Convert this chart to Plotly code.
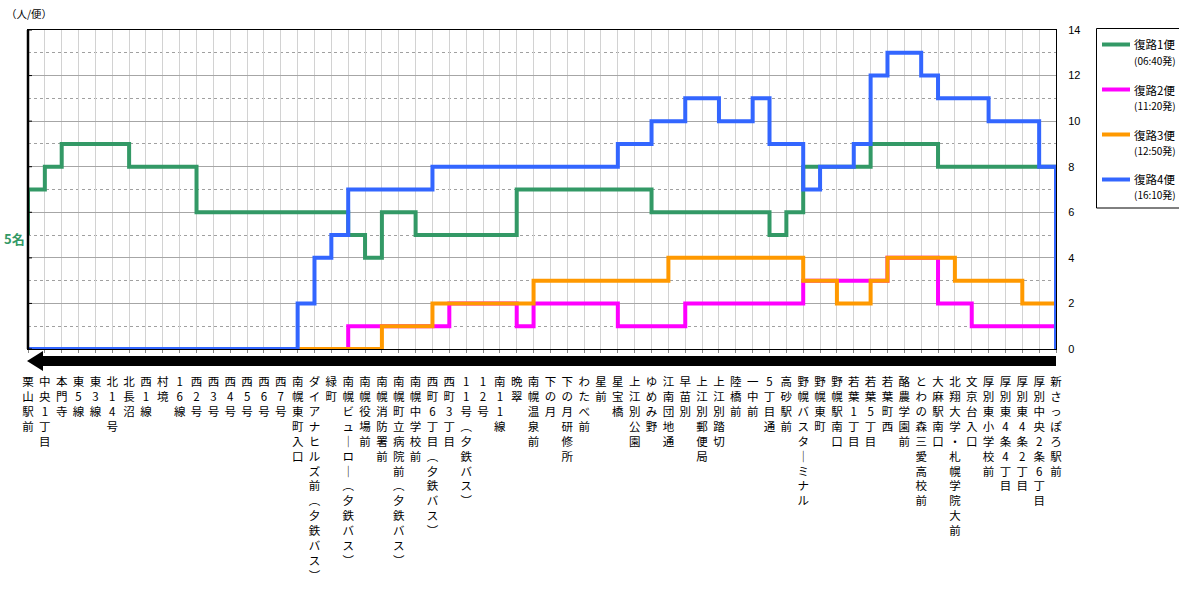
import plotly.graph_objects as go

# Stops along the route, drawn left (栗山駅前) to right (新さっぽろ駅前)
stops = [
    "栗山駅前", "中央1丁目", "本門寺", "東5線", "東3線", "北14号", "北長沼", "西1線",
    "村境", "16線", "西2号", "西3号", "西4号", "西5号", "西6号", "西7号",
    "南幌東町入口", "ダイアナヒルズ前（夕鉄バス）", "緑町", "南幌ビューロー（夕鉄バス）",
    "南幌役場前", "南幌消防署前", "南幌町立病院前（夕鉄バス）", "南幌中学校前",
    "西町6丁目（夕鉄バス）", "西町3丁目", "11号（夕鉄バス）", "12号", "南11線", "晩翠",
    "南幌温泉前", "下の月", "下の月研修所", "わたべ前", "星前", "星宝橋", "上江別公園",
    "ゆめみ野", "江南団地通", "早苗別", "上江別郵便局", "上江別踏切", "陸橋前", "一中前",
    "5丁目通", "高砂駅前", "野幌バスターミナル", "野幌東町", "野幌駅南口", "若葉1丁目",
    "若葉5丁目", "若葉町西", "酪農学園前", "とわの森三愛高校前", "大麻駅南口",
    "北翔大学・札幌学院大前", "文京台入口", "厚別東小学校前", "厚別東4条4丁目",
    "厚別東4条2丁目", "厚別中央2条6丁目", "新さっぽろ駅前",
]

# Passengers on board when leaving each stop (bus runs right -> left)
trip1 = [5, 7, 8, 9, 9, 9, 9, 8, 8, 8, 8, 6, 6, 6, 6, 6, 6, 6, 6, 6, 5, 4, 6, 6, 5, 5,
         5, 5, 5, 5, 7, 7, 7, 7, 7, 7, 7, 7, 6, 6, 6, 6, 6, 6, 6, 5, 6, 8, 8, 8, 8, 9,
         9, 9, 9, 8, 8, 8, 8, 8, 8, 8]
trip2 = [0, 0, 0, 0, 0, 0, 0, 0, 0, 0, 0, 0, 0, 0, 0, 0, 0, 0, 0, 0, 1, 1, 1, 1, 1, 1,
         2, 2, 2, 2, 1, 2, 2, 2, 2, 2, 1, 1, 1, 1, 2, 2, 2, 2, 2, 2, 2, 3, 3, 3, 3, 3,
         4, 4, 4, 2, 2, 1, 1, 1, 1, 1]
trip3 = [0, 0, 0, 0, 0, 0, 0, 0, 0, 0, 0, 0, 0, 0, 0, 0, 0, 0, 0, 0, 0, 0, 1, 1, 1, 2,
         2, 2, 2, 2, 2, 3, 3, 3, 3, 3, 3, 3, 3, 4, 4, 4, 4, 4, 4, 4, 4, 3, 3, 2, 2, 3,
         4, 4, 4, 4, 3, 3, 3, 3, 2, 2]
trip4 = [0, 0, 0, 0, 0, 0, 0, 0, 0, 0, 0, 0, 0, 0, 0, 0, 0, 2, 4, 5, 7, 7, 7, 7, 7, 8,
         8, 8, 8, 8, 8, 8, 8, 8, 8, 8, 9, 9, 10, 10, 11, 11, 10, 10, 11, 9, 9, 7, 8, 8,
         9, 12, 13, 13, 12, 11, 11, 11, 10, 10, 10, 8]

trip_names = ["復路1便", "復路2便", "復路3便", "復路4便"]
trip_times = ["(06:40発)", "(11:20発)", "(12:50発)", "(16:10発)"]
trip_colors = ["#339966", "#FF00FF", "#FF9900", "#3366FF"]
trip_loads = [trip1, trip2, trip3, trip4]

y_ticks = [0, 2, 4, 6, 8, 10, 12, 14]

FONT = "Noto Sans CJK JP, Noto Sans CJK SC, sans-serif"
W, H = 1179, 590
L, R, T, B = 28, 1056, 30, 349


def fx(p):
    return (p - L) / (R - L)


def fy(p):
    return (B - p) / (B - T)


VERT = {"（": "︵", "）": "︶", "ー": "｜"}


def vertical(name):
    return "<br>".join(VERT.get(c, c) for c in name)


fig = go.Figure()
xs = list(range(len(stops)))
for name, color, loads in zip(trip_names, trip_colors, trip_loads):
    fig.add_trace(go.Scatter(
        x=xs + [xs[-1]], y=loads + [0], mode="lines", name=name,
        line=dict(color=color, width=4, shape="vh"),
        showlegend=False, hoverinfo="skip", cliponaxis=False,
    ))

shapes = []
# thick left frame with short inward ticks
shapes.append(dict(type="line", xref="paper", yref="paper", x0=0, x1=0, y0=0, y1=1,
                   line=dict(color="black", width=2.5)))
for v in y_ticks:
    shapes.append(dict(type="line", xref="paper", yref="y", x0=0, x1=fx(32), y0=v, y1=v,
                       line=dict(color="black", width=1)))
# direction arrow under the plot
bar = (f"M {fx(43)} {fy(356)} L {fx(1056)} {fy(356)} L {fx(1056)} {fy(366)} "
       f"L {fx(43)} {fy(366)} L {fx(43)} {fy(371)} L {fx(27)} {fy(361)} "
       f"L {fx(43)} {fy(351)} Z")
shapes.append(dict(type="path", xref="paper", yref="paper", path=bar,
                   fillcolor="black", line=dict(width=0)))

# legend box
shapes.append(dict(type="rect", xref="paper", yref="paper",
                   x0=fx(1096.5), x1=fx(1190), y0=fy(28.5), y1=fy(208),
                   line=dict(color="black", width=1), fillcolor="rgba(0,0,0,0)"))
annotations = []
for i, (name, when, color) in enumerate(zip(trip_names, trip_times, trip_colors)):
    yy = 44.5 + 45 * i
    shapes.append(dict(type="line", xref="paper", yref="paper",
                       x0=fx(1102), x1=fx(1130), y0=fy(yy), y1=fy(yy),
                       line=dict(color=color, width=4)))
    annotations.append(dict(xref="paper", yref="paper", x=fx(1132), y=fy(yy),
                            text=name, showarrow=False, xanchor="left", yanchor="middle",
                            font=dict(size=11.5, color="black", family=FONT)))
    annotations.append(dict(xref="paper", yref="paper", x=fx(1132), y=fy(yy + 15.5),
                            text=when, showarrow=False, xanchor="left", yanchor="middle",
                            font=dict(size=10, color="black", family=FONT)))

annotations.append(dict(xref="paper", yref="paper", x=fx(2), y=fy(238),
                        text="<b>5名</b>", showarrow=False, xanchor="left", yanchor="middle",
                        font=dict(size=13, color="#339966", family=FONT)))
annotations.append(dict(xref="paper", yref="paper", x=fx(4), y=fy(14),
                        text="（人/便）", showarrow=False, xanchor="left", yanchor="middle",
                        font=dict(size=10.5, color="black", family=FONT)))

fig.update_layout(
    width=W, height=H,
    margin=dict(l=L, r=W - R, t=T, b=H - B, pad=0, autoexpand=False),
    paper_bgcolor="white", plot_bgcolor="white",
    font=dict(family=FONT, color="black"),
    shapes=shapes, annotations=annotations,
    xaxis=dict(
        range=[0, len(stops) - 1], tickmode="array", tickvals=xs,
        ticktext=[vertical(s) for s in stops], tickangle=0, automargin=False,
        tickfont=dict(size=11.5, family=FONT, color="black"),
        ticks="outside", ticklen=3, tickcolor="#888888", ticklabelstandoff=19,
        showgrid=True, gridcolor="#d2d2d2", gridwidth=1,
        showline=True, linecolor="black", linewidth=1, mirror=True,
        zeroline=False, fixedrange=True,
    ),
    yaxis=dict(
        range=[0, 14], tickmode="array", tickvals=y_ticks, side="right",
        automargin=False,
        tickfont=dict(size=11, family="Liberation Sans, Arial", color="black"),
        ticks="", ticklabelstandoff=9,
        showgrid=True, gridcolor="#a6a6a6", gridwidth=1,
        minor=dict(dtick=1, showgrid=True, gridcolor="#a0a0a0", griddash="dot", gridwidth=1),
        showline=True, linecolor="black", linewidth=1, mirror=True,
        zeroline=False, fixedrange=True,
    ),
)

fig.write_html("out.html")
